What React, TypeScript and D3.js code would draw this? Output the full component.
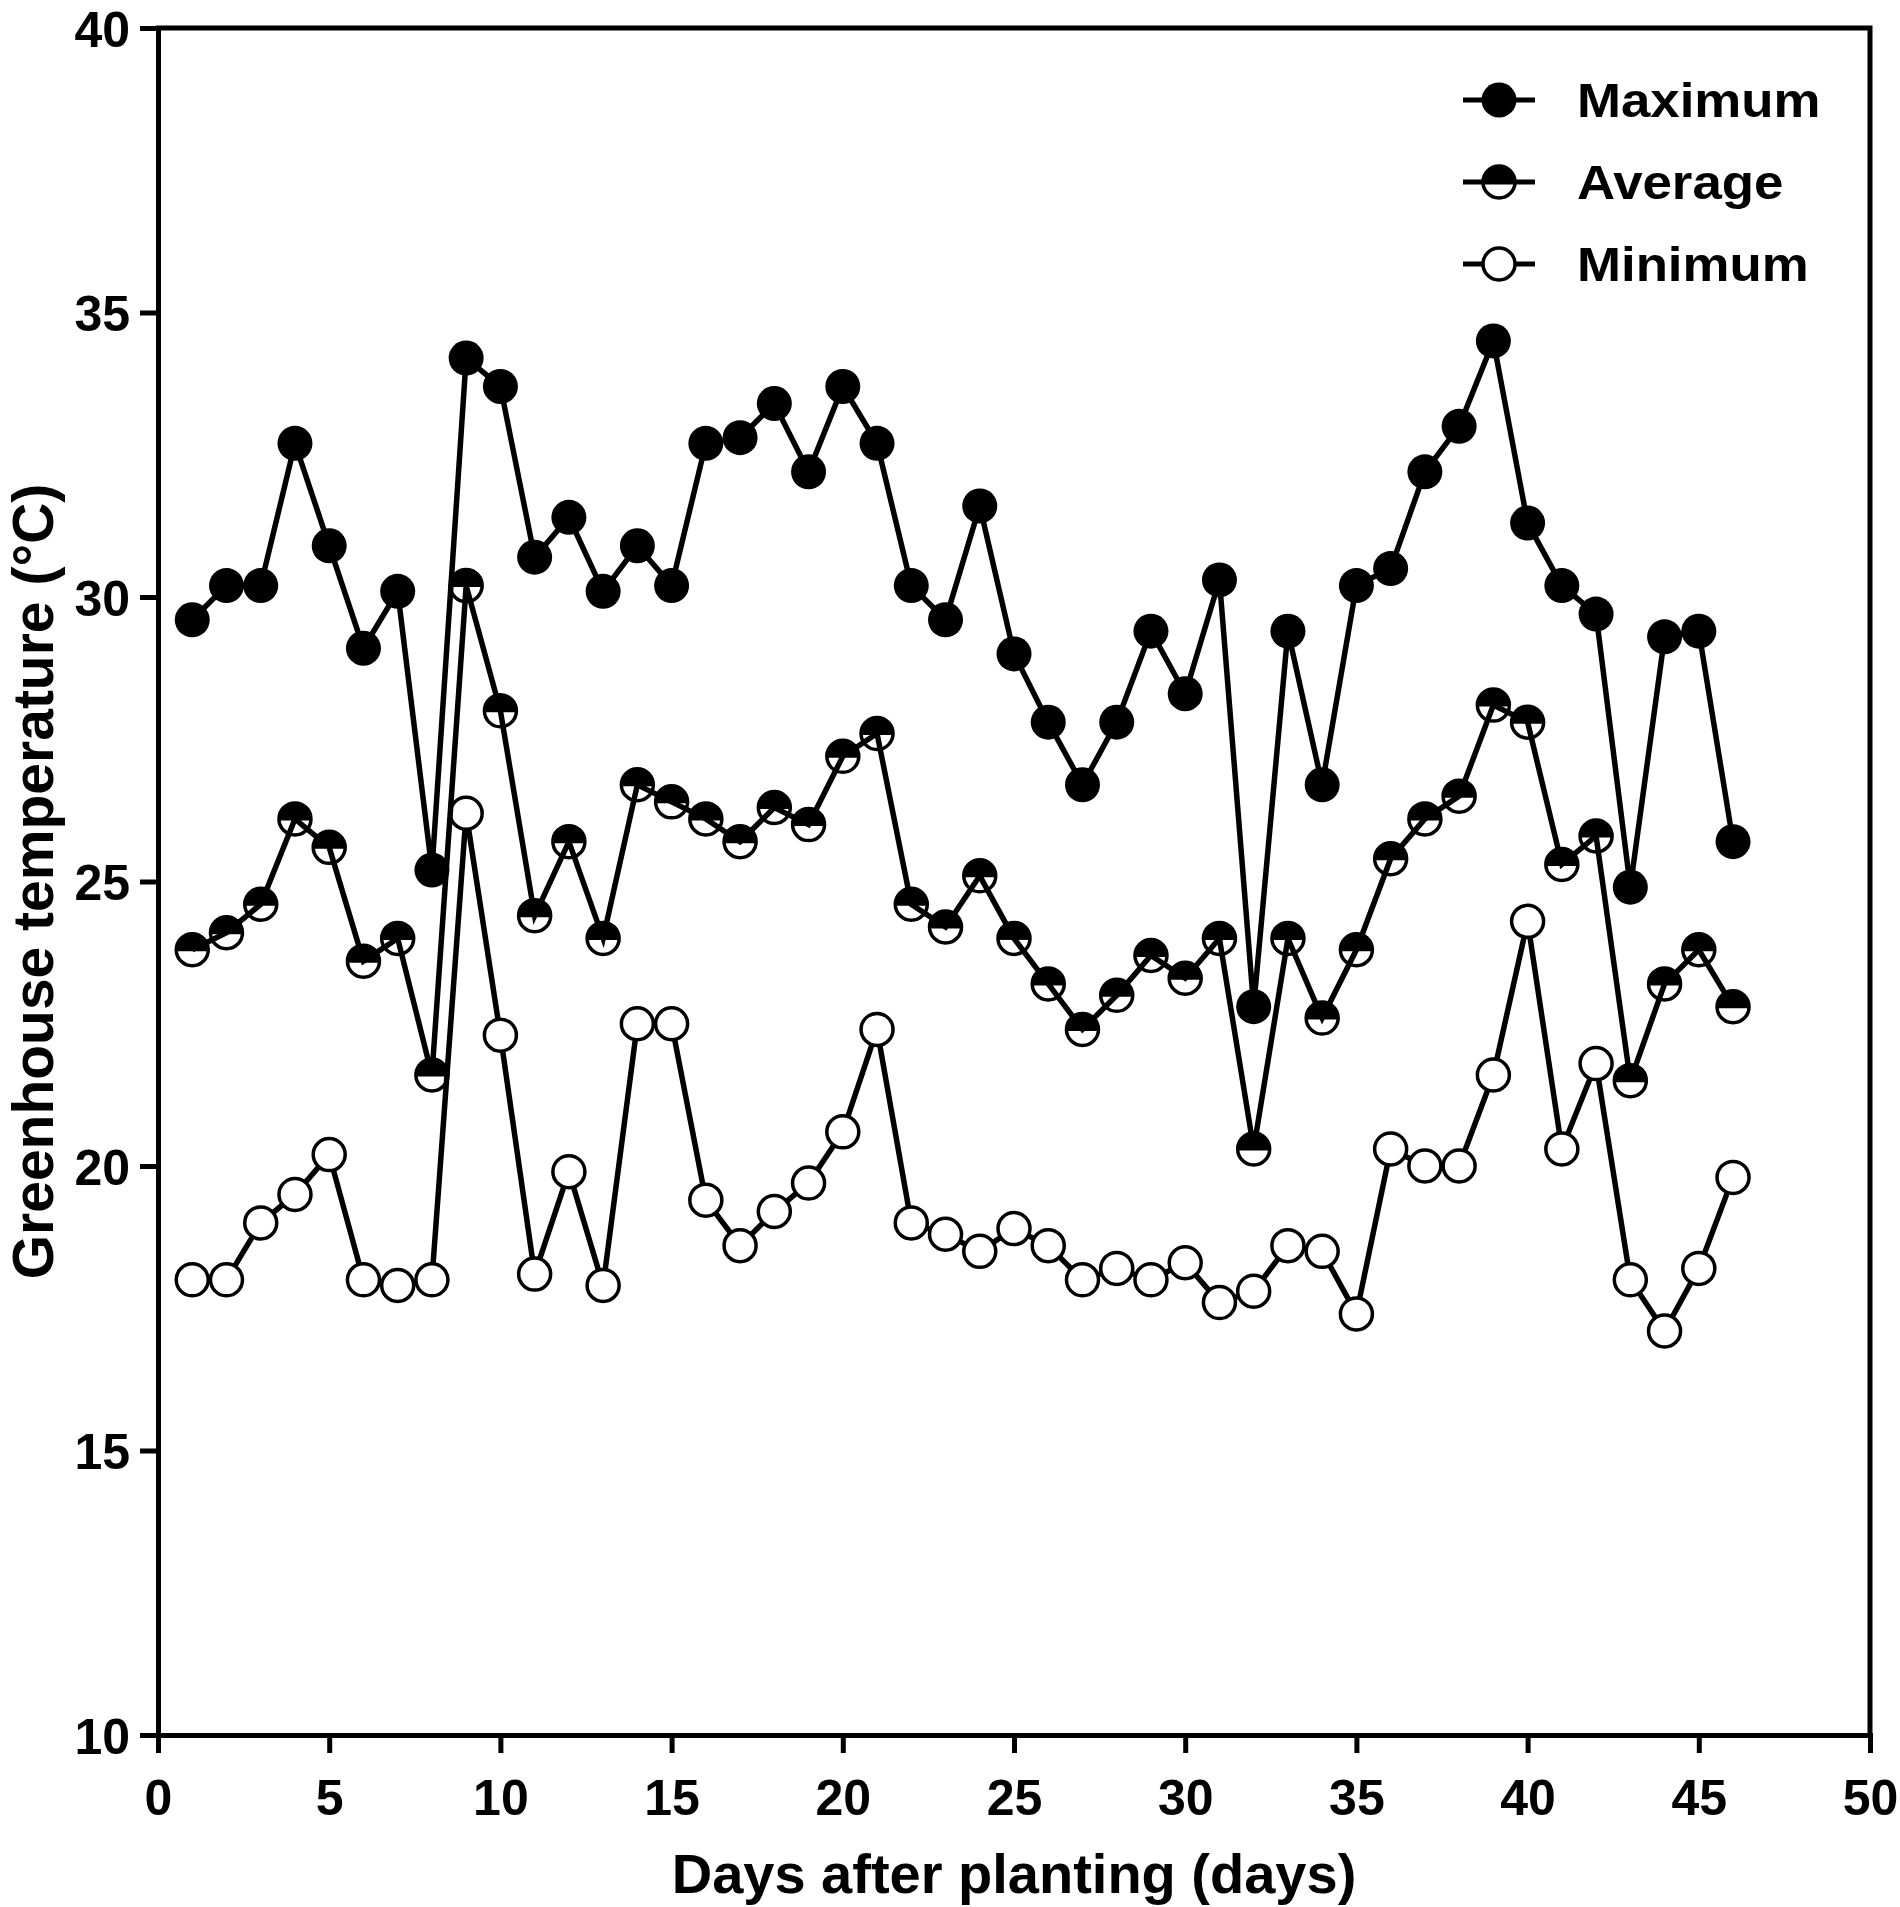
import React, { useEffect, useRef } from "react";
import * as d3 from "d3";

const days = d3.range(1, 47);

const maximum = [
  29.6, 30.2, 30.2, 32.7, 30.9, 29.1, 30.1, 25.2, 34.2, 33.7,
  30.7, 31.4, 30.1, 30.9, 30.2, 32.7, 32.8, 33.4, 32.2, 33.7,
  32.7, 30.2, 29.6, 31.6, 29.0, 27.8, 26.7, 27.8, 29.4, 28.3,
  30.3, 22.8, 29.4, 26.7, 30.2, 30.5, 32.2, 33.0, 34.5, 31.3,
  30.2, 29.7, 24.9, 29.3, 29.4, 25.7,
];

const average = [
  23.8, 24.1, 24.6, 26.1, 25.6, 23.6, 24.0, 21.6, 30.2, 28.0,
  24.4, 25.7, 24.0, 26.7, 26.4, 26.1, 25.7, 26.3, 26.0, 27.2,
  27.6, 24.6, 24.2, 25.1, 24.0, 23.2, 22.4, 23.0, 23.7, 23.3,
  24.0, 20.3, 24.0, 22.6, 23.8, 25.4, 26.1, 26.5, 28.1, 27.8,
  25.3, 25.8, 21.5, 23.2, 23.8, 22.8,
];

const minimum = [
  18.0, 18.0, 19.0, 19.5, 20.2, 18.0, 17.9, 18.0, 26.2, 22.3,
  18.1, 19.9, 17.9, 22.5, 22.5, 19.4, 18.6, 19.2, 19.7, 20.6,
  22.4, 19.0, 18.8, 18.5, 18.9, 18.6, 18.0, 18.2, 18.0, 18.3,
  17.6, 17.8, 18.6, 18.5, 17.4, 20.3, 20.0, 20.0, 21.6, 24.3,
  20.3, 21.8, 18.0, 17.1, 18.2, 19.8,
];

const seriesNames = ["Maximum", "Average", "Minimum"];
const xTicks = d3.range(0, 51, 5);
const yTicks = d3.range(10, 41, 5);

const W = 1900, H = 1907;
const margin = { top: 28, right: 30, bottom: 172, left: 158 };
const FONT = "'Liberation Sans', Arial, Helvetica, sans-serif";

export default function App() {
  const ref = useRef<SVGSVGElement>(null);

  useEffect(() => {
    const svg = d3.select(ref.current);
    svg.selectAll("*").remove();

    const width = W - margin.left - margin.right;
    const height = H - margin.top - margin.bottom;

    const x = d3.scaleLinear().domain([0, 50]).range([0, width]);
    const y = d3.scaleLinear().domain([10, 40]).range([height, 0]);

    const g = svg.append("g")
      .attr("transform", "translate(" + margin.left + "," + margin.top + ")");

    // frame (top + right)
    g.append("path")
      .attr("d", `M0,0H${width}V${height}`)
      .attr("fill", "none")
      .attr("stroke", "#000")
      .attr("stroke-width", 5)
      .attr("stroke-linecap", "square");

    // axes
    const xAxis = g.append("g")
      .attr("transform", "translate(0," + height + ")")
      .call(d3.axisBottom(x).tickValues(xTicks).tickSize(18).tickSizeOuter(0).tickPadding(26));
    const yAxis = g.append("g")
      .call(d3.axisLeft(y).tickValues(yTicks).tickSize(18).tickSizeOuter(0).tickPadding(10));

    [xAxis, yAxis].forEach((a) => {
      a.select(".domain").attr("stroke-width", 5).attr("stroke-linecap", "square");
      a.selectAll(".tick line").attr("stroke-width", 5);
      a.selectAll(".tick text")
        .attr("font-family", FONT)
        .attr("font-weight", "bold")
        .attr("font-size", 50)
        .attr("fill", "#000");
    });
    yAxis.selectAll(".tick text").attr("dy", "0.36em");
    xAxis.selectAll(".tick text").attr("dy", "0.72em");

    const line = d3.line<number>()
      .x((_, i) => x(days[i]))
      .y((d) => y(d));

    const r = 16;
    const halfTop = `M${-r},0A${r},${r} 0 0 1 ${r},0Z`;

    function drawLine(values: number[]) {
      g.append("path")
        .datum(values)
        .attr("d", line)
        .attr("fill", "none")
        .attr("stroke", "#000")
        .attr("stroke-width", 5.5)
        .attr("stroke-linejoin", "miter");
    }

    function drawMarker(sel: any, kind: string) {
      if (kind === "Maximum") {
        sel.append("circle").attr("r", r + 1.5).attr("fill", "#000");
      } else if (kind === "Average") {
        sel.append("path").attr("d", halfTop).attr("fill", "#000");
        sel.append("circle").attr("r", r).attr("fill", "none")
          .attr("stroke", "#000").attr("stroke-width", 3.5);
        sel.append("line").attr("x1", -r).attr("x2", r)
          .attr("stroke", "#000").attr("stroke-width", 3);
      } else {
        sel.append("circle").attr("r", r).attr("fill", "#fff")
          .attr("stroke", "#000").attr("stroke-width", 3.5);
      }
    }

    const seriesData: Record<string, number[]> = {
      Maximum: maximum,
      Average: average,
      Minimum: minimum,
    };

    ["Minimum", "Average", "Maximum"].forEach((name) => {
      const values = seriesData[name];
      drawLine(values);
      values.forEach((v, i) => {
        const m = g.append("g")
          .attr("transform", `translate(${x(days[i])},${y(v)})`);
        drawMarker(m, name);
      });
    });

    // legend
    const legend = svg.append("g").attr("transform", "translate(1463,100)");
    seriesNames.forEach((name, i) => {
      const row = legend.append("g").attr("transform", `translate(0,${i * 82})`);
      row.append("line")
        .attr("x1", 0).attr("x2", 72)
        .attr("stroke", "#000").attr("stroke-width", 5);
      const m = row.append("g").attr("transform", "translate(36,0)");
      drawMarker(m, name);
      row.append("text")
        .attr("transform", "translate(114,17) scale(1.1,1)")
        .attr("font-family", FONT)
        .attr("font-weight", "bold")
        .attr("font-size", 48)
        .text(name);
    });

    // axis titles
    svg.append("text")
      .attr("x", margin.left + width / 2)
      .attr("y", 1893)
      .attr("text-anchor", "middle")
      .attr("font-family", FONT)
      .attr("font-weight", "bold")
      .attr("font-size", 56)
      .text("Days after planting (days)");

    svg.append("text")
      .attr("transform", `translate(53,${margin.top + height / 2}) rotate(-90)`)
      .attr("text-anchor", "middle")
      .attr("font-family", FONT)
      .attr("font-weight", "bold")
      .attr("font-size", 57)
      .text("Greenhouse temperature (°C)");
  }, []);

  return (
    <svg
      ref={ref}
      width={W}
      height={H}
      style={{ position: "absolute", left: 0, top: 0, background: "#fff" }}
    />
  );
}
